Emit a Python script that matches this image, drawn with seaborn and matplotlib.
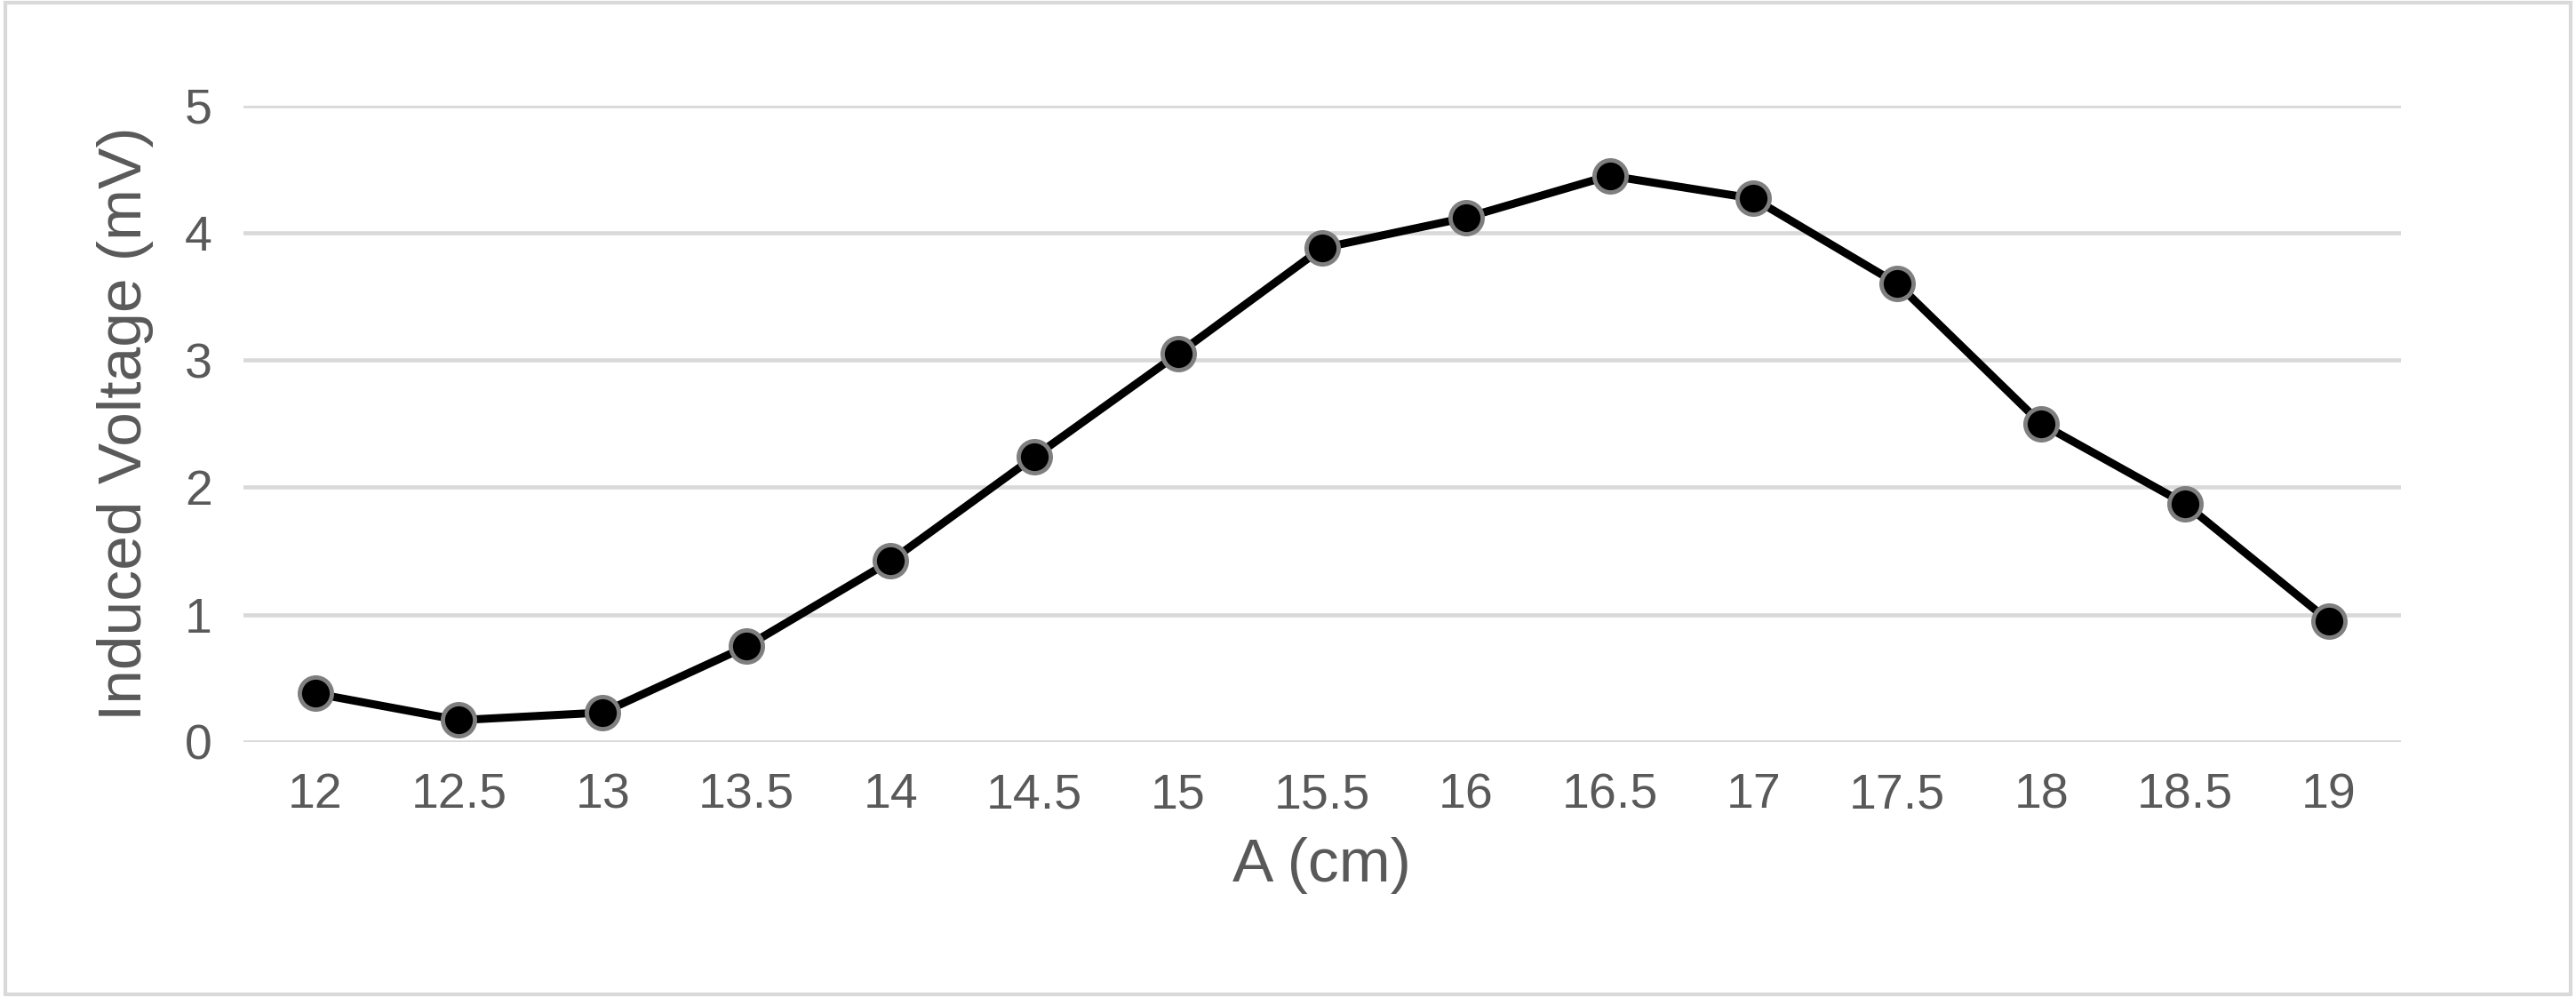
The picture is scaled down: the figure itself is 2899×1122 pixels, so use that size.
import matplotlib
matplotlib.use("Agg")
import matplotlib.pyplot as plt
import seaborn as sns
import pandas as pd

categories = ["12", "12.5", "13", "13.5", "14", "14.5", "15", "15.5", "16", "16.5", "17", "17.5", "18", "18.5", "19"]
voltage = [0.38, 0.17, 0.23, 0.75, 1.42, 2.24, 3.05, 3.88, 4.12, 4.45, 4.27, 3.60, 2.50, 1.87, 0.95]
yticks = [0, 1, 2, 3, 4, 5]

sns.set_theme(style="white")
plt.rcParams['font.family'] = ['Liberation Sans', 'DejaVu Sans']

df = pd.DataFrame({"A": categories, "V": voltage})
fig = plt.figure(figsize=(28.99, 11.22), dpi=100)
ax = fig.add_axes([0.0944, 0.256, 0.8376, 0.638])
for y in yticks:
    ax.axhline(y, color="#d9d9d9", lw=3.3, zorder=0)
sns.pointplot(data=df, x="A", y="V", color="black", ax=ax, linewidth=6.5,
              markers="o", markersize=26, markeredgecolor="#7f7f7f", markeredgewidth=3.5,
              errorbar=None)
ax.set_xlim(-0.5, 14.5)
ax.set_ylim(0, 5)
ax.set_yticks(yticks)
ax.set_yticklabels([str(y) for y in yticks])
for s in ax.spines.values():
    s.set_visible(False)
ax.tick_params(axis="both", length=0, labelsize=40, labelcolor="#595959", pad=25)
ax.set_xlabel("A (cm)", fontsize=50, color="#595959", labelpad=15)
ax.set_ylabel("Induced Voltage (mV)", fontsize=50, color="#595959", labelpad=25)
fig.patches.append(plt.Rectangle((0.002, 0.003), 0.996, 0.994, transform=fig.transFigure,
                                 fill=False, edgecolor="#d9d9d9", lw=3))
fig.savefig("out.png", dpi=100)
